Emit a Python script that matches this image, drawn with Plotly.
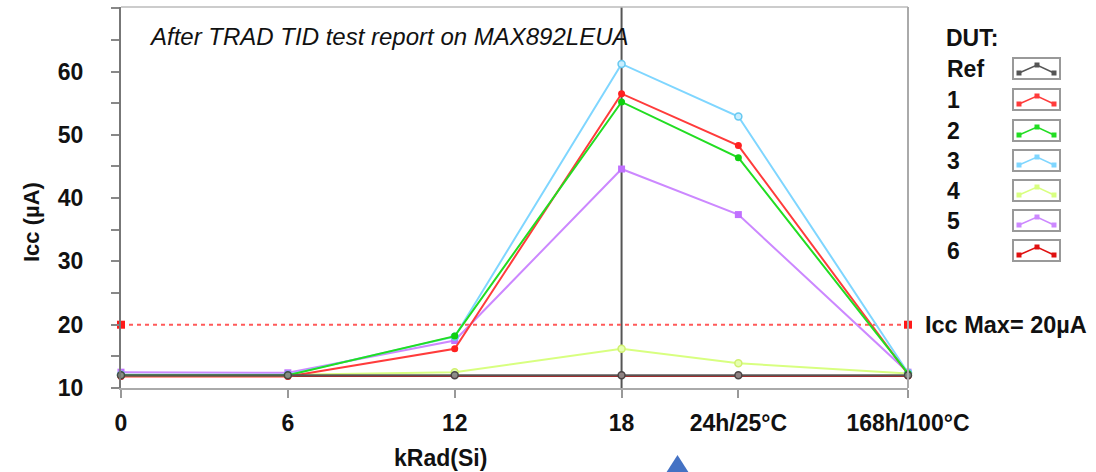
import plotly.graph_objects as go

# ---------------- data ----------------
x_labels = ["0", "6", "12", "18", "24h/25°C", "168h/100°C"]
x_axis_value = [0, 6, 12, 18, 22.2, 28.3]   # uneven spacing of the original axis

ref  = [12.0, 12.0, 12.0, 12.0, 12.0, 12.0]
dut1 = [11.8, 11.8, 16.2, 56.5, 48.3, 12.2]
dut2 = [12.0, 12.0, 18.2, 55.2, 46.4, 12.3]
dut3 = [12.1, 12.1, 18.1, 61.2, 52.9, 12.4]
dut4 = [12.1, 12.1, 12.5, 16.2, 13.9, 12.3]
dut5 = [12.5, 12.4, 17.5, 44.6, 37.4, 12.5]
dut6 = [11.9, 11.9, 12.0, 12.0, 12.0, 11.9]
icc_max = 20

series_names = ["Ref", "1", "2", "3", "4", "5", "6"]

# ---------------- geometry helpers ----------------
W_FIG, H_FIG = 1096, 472
L, R, T, B = 121, 908, 7, 388
PW, PH = R - L, B - T


def px(x):
    return (x - L) / PW


def py(y):
    return (B - y) / PH


FONT = "Liberation Sans, Arial, sans-serif"

fig = go.Figure()

colors = {
    "Ref": "#555555", "1": "#ff3b3b", "2": "#22dd22", "3": "#7fd6ff",
    "4": "#d8ff80", "5": "#cc88ff", "6": "#e01010",
}

# Icc max dotted line
fig.add_trace(go.Scatter(
    x=[x_axis_value[0], x_axis_value[-1]], y=[icc_max, icc_max],
    mode="lines+markers", cliponaxis=False,
    line=dict(color="#ff5a5a", width=2, dash="4px,4px"),
    marker=dict(symbol="square", size=8, color="#ff1a1a"),
    showlegend=False, hoverinfo="skip"))

trace_specs = [
    ("6", dut6, dict(symbol="circle", size=7, color="#e01010")),
    ("4", dut4, dict(symbol="circle", size=7, color="#e6ffb0", line=dict(color="#d0f070", width=1.5))),
    ("5", dut5, dict(symbol="square", size=7, color="#c070ff")),
    ("3", dut3, dict(symbol="circle", size=7, color="#c8eeff", line=dict(color="#66c8f0", width=1.5))),
    ("1", dut1, dict(symbol="circle", size=7, color="#ff2020")),
    ("2", dut2, dict(symbol="circle", size=7, color="#10d010")),
    ("Ref", ref, dict(symbol="circle", size=7, color="#8a8a8a", line=dict(color="#444444", width=1.5))),
]
for name, vals, mk in trace_specs:
    fig.add_trace(go.Scatter(
        x=x_axis_value, y=vals, mode="lines+markers", name=name,
        cliponaxis=False,
        line=dict(color=colors[name], width=2 if name != "Ref" else 2.2),
        marker=mk, opacity=0.95 if name == "Ref" else 1, showlegend=False))

shapes = []
# vertical line at 18
shapes.append(dict(type="line", xref="x", yref="paper", x0=18, x1=18, y0=0, y1=1,
                   line=dict(color="#555555", width=2), layer="below"))
# top & right frame
shapes.append(dict(type="line", xref="paper", yref="paper", x0=0, x1=1, y0=1, y1=1,
                   line=dict(color="#bbbbbb", width=1.5)))
shapes.append(dict(type="line", xref="paper", yref="paper", x0=1, x1=1, y0=0, y1=1,
                   line=dict(color="#aaaaaa", width=2)))

TXT = "#111111"
annotations = []
annotations.append(dict(text="After TRAD TID test report on MAX892LEUA", xref="paper", yref="paper",
                        x=px(147), y=py(37), xanchor="left", yanchor="middle", showarrow=False,
                        font=dict(family=FONT, size=24, style="italic", color=TXT)))
annotations.append(dict(text="Icc Max= 20µA", xref="paper", yref="paper",
                        x=px(923), y=py(325), xanchor="left", yanchor="middle", showarrow=False,
                        font=dict(family=FONT, size=23.5, weight="bold", color=TXT)))
annotations.append(dict(text="Icc (µA)", xref="paper", yref="paper", textangle=-90,
                        x=px(31), y=py(222), xanchor="center", yanchor="middle", showarrow=False,
                        font=dict(family=FONT, size=22, weight="bold", color=TXT)))
annotations.append(dict(text="kRad(Si)", xref="paper", yref="paper",
                        x=px(440), y=py(458), xanchor="center", yanchor="middle", showarrow=False,
                        font=dict(family=FONT, size=23, weight="bold", color=TXT)))
annotations.append(dict(text="DUT:", xref="paper", yref="paper",
                        x=px(944), y=py(38), xanchor="left", yanchor="middle", showarrow=False,
                        font=dict(family=FONT, size=23, weight="bold", color=TXT)))

row_y = [69, 100, 131, 161, 191, 221, 251]
for name, yc in zip(series_names, row_y):
    annotations.append(dict(text=name, xref="paper", yref="paper",
                            x=px(945), y=py(yc), xanchor="left", yanchor="middle", showarrow=False,
                            font=dict(family=FONT, size=23, weight="bold", color=TXT)))
    bx0, bx1 = 1013, 1060
    by0, by1 = yc - 11, yc + 10
    shapes.append(dict(type="rect", xref="paper", yref="paper",
                       x0=px(bx0), x1=px(bx1), y0=py(by1), y1=py(by0),
                       line=dict(color="#999999", width=2), fillcolor="white"))
    c = colors[name]
    path = "M {} {} L {} {} L {} {}".format(px(bx0 + 6), py(yc + 4), px(bx0 + 24), py(yc - 4),
                                            px(bx1 - 6), py(yc + 4))
    shapes.append(dict(type="path", xref="paper", yref="paper", path=path,
                       line=dict(color=c, width=1.5)))
    for mx, my in [(bx0 + 6, yc + 4), (bx0 + 24, yc - 4), (bx1 - 6, yc + 4)]:
        shapes.append(dict(type="rect", xref="paper", yref="paper",
                           x0=px(mx - 2.5), x1=px(mx + 2.5), y0=py(my + 2.5), y1=py(my - 2.5),
                           line=dict(width=0), fillcolor=c))

# blue arrow tip at the bottom
shapes.append(dict(type="path", xref="paper", yref="paper",
                   path="M {} {} L {} {} L {} {} Z".format(px(666), py(473), px(677.5), py(455),
                                                         px(689), py(473)),
                   fillcolor="#4472c4", line=dict(width=0)))

fig.update_layout(
    width=W_FIG, height=H_FIG, autosize=False,
    margin=dict(l=L, r=W_FIG - R, t=T, b=H_FIG - B),
    paper_bgcolor="white", plot_bgcolor="white",
    shapes=shapes, annotations=annotations, showlegend=False,
    xaxis=dict(range=[x_axis_value[0], x_axis_value[-1]], tickvals=x_axis_value, ticktext=x_labels,
               showgrid=False, zeroline=False, showline=True, linecolor="#aaaaaa", linewidth=2,
               ticks="outside", ticklen=8, tickcolor="#999999", tickwidth=1.5,
               ticklabelstandoff=5,
               tickfont=dict(family=FONT, size=23, weight="bold", color=TXT)),
    yaxis=dict(range=[10, 70.2], tickvals=[10, 20, 30, 40, 50, 60],
               showgrid=False, zeroline=False, showline=True, linecolor="#777777", linewidth=2,
               ticks="outside", ticklen=8, tickcolor="#888888", tickwidth=1.5,
               minor=dict(dtick=5, tick0=0, ticks="outside", ticklen=8, tickcolor="#888888", tickwidth=1.5),
               ticklabelstandoff=23,
               tickfont=dict(family=FONT, size=23, weight="bold", color=TXT)),
)

fig.write_html("out.html")
